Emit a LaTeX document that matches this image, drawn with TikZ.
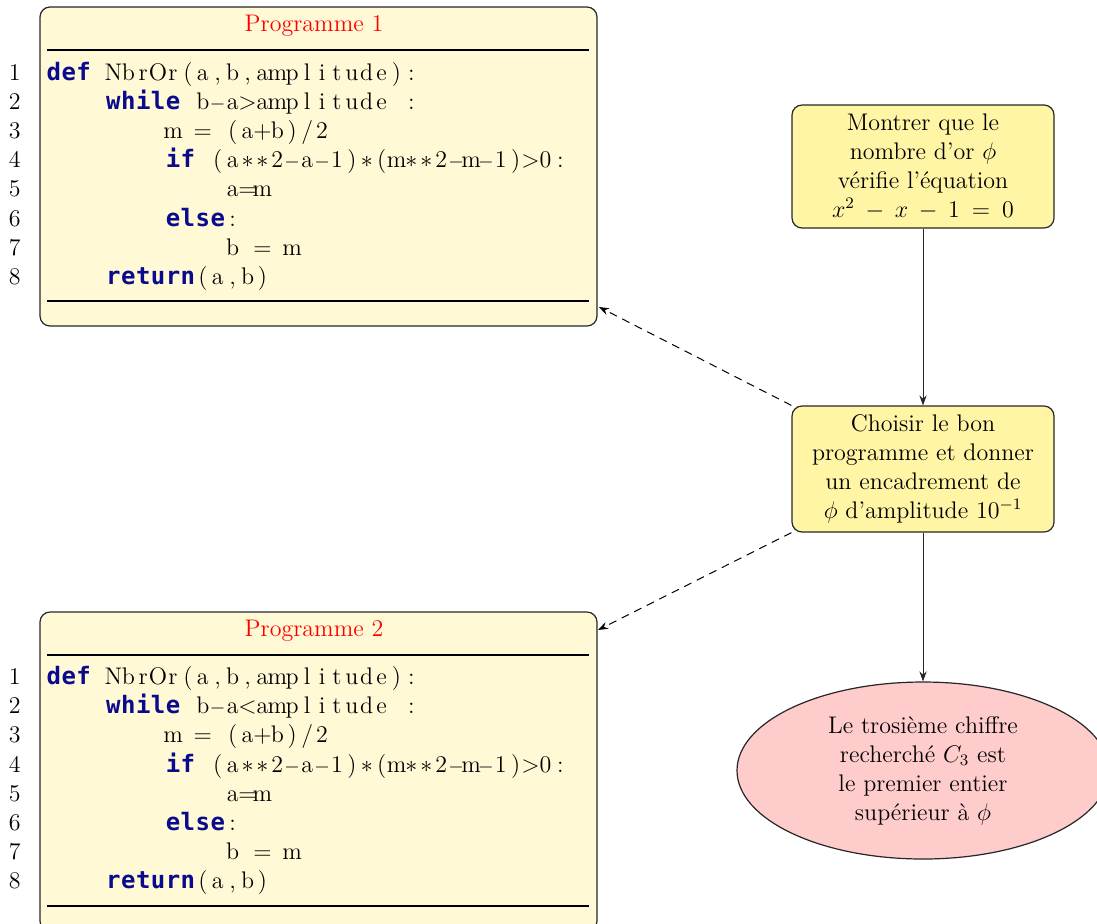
\documentclass[tikz,border=0pt]{standalone}
\usepackage{fontspec}
\usetikzlibrary{arrows.meta,shapes.geometric}
\newfontfamily\kwfont{DejaVu Sans Mono}
\definecolor{codebg}{RGB}{255,249,214}
\definecolor{boxbg}{RGB}{255,245,165}
\definecolor{ellbg}{RGB}{255,204,204}
\definecolor{kwblue}{RGB}{10,10,140}
\makeatletter
\newcommand\colbox[1]{\makebox[7.45pt][c]{#1}}
\newcommand\fcol[1]{{\fontsize{12pt}{14pt}\selectfont\@tfor\fc@t:=#1\do{\colbox{\fc@t}}}}
\newcommand\kw[1]{{\kwfont\bfseries\fontsize{12pt}{14pt}\selectfont\color{kwblue}\@tfor\fc@t:=#1\do{\colbox{\fc@t}}}}
\makeatother
\newcommand\mm{{\fontsize{10pt}{12pt}\selectfont$-$}}
\newcommand\st{{$\ast$}}
\begin{document}
\begin{tikzpicture}[x=0.5pt,y=-0.5pt,
  every node/.style={font=\fontsize{12pt}{14.5pt}\selectfont},
  codebox/.style={draw=black!85, line width=0.6pt, rounded corners=5pt, fill=codebg,
    minimum width=278.5pt, minimum height=159.5pt, inner sep=0pt},
  ptitle/.style={text=red, inner sep=0pt, anchor=base},
  numtxt/.style={anchor=base east, inner sep=0pt, font=\fontsize{12pt}{14pt}\selectfont},
  codetxt/.style={anchor=base west, inner sep=0pt},
  rulel/.style={line width=0.9pt},
  stepbox/.style={draw=black!85, line width=0.6pt, rounded corners=5pt, fill=boxbg,
    minimum width=131pt, align=center, inner sep=2pt},
  endell/.style={ellipse, draw=black!85, line width=0.6pt, fill=ellbg,
    minimum width=186pt, minimum height=88.5pt, inner sep=0pt, align=center},
  arr/.style={draw=black!85, line width=0.5pt, -{Stealth[length=5pt,width=3.6pt]}},
  darr/.style={draw=black, line width=0.5pt, dash pattern=on 4pt off 3pt,
    -{Stealth[length=5pt,width=3.6pt]}}
]
\clip (0,0) rectangle (1097,923);
\newcommand\codeln[5]{%
  \node[numtxt] (#1n) at (21,#2) {#4};
  \node[codetxt] (#1) at ({46+#3*14.9},#2) {#5};}
% Programme 1
\node[codebox] (prog1) at (318.5,166.5) {};
\node[ptitle] (t1) at (314,31) {Programme 1};
\draw[rulel] (47,50) -- (589,50);
\draw[rulel] (47,301) -- (589,301);
\codeln{a1}{80}{0}{1}{\kw{def}\fcol{~NbrOr(a,b,amplitude):}}
\codeln{a2}{109.2}{4}{2}{\kw{while}\fcol{~b\mm a>amplitude~:}}
\codeln{a3}{138.4}{8}{3}{\fcol{m~=~(a+b)/2}}
\codeln{a4}{167.6}{8}{4}{\kw{if}\fcol{~(a\st\st2\mm a\mm1)\st(m\st\st2\mm m\mm1)>0:}}
\codeln{a5}{196.8}{12}{5}{\fcol{a=m}}
\codeln{a6}{226}{8}{6}{\kw{else}\fcol{:}}
\codeln{a7}{255.2}{12}{7}{\fcol{b~=~m}}
\codeln{a8}{284.4}{4}{8}{\kw{return}\fcol{(a,b)}}
% Programme 2
\node[codebox] (prog2) at (318.5,771.5) {};
\node[ptitle] (t2) at (314,636) {Programme 2};
\draw[rulel] (47,655) -- (589,655);
\draw[rulel] (47,906) -- (589,906);
\codeln{b1}{684.5}{0}{1}{\kw{def}\fcol{~NbrOr(a,b,amplitude):}}
\codeln{b2}{713.7}{4}{2}{\kw{while}\fcol{~b\mm a<amplitude~:}}
\codeln{b3}{742.9}{8}{3}{\fcol{m~=~(a+b)/2}}
\codeln{b4}{772.1}{8}{4}{\kw{if}\fcol{~(a\st\st2\mm a\mm1)\st(m\st\st2\mm m\mm1)>0:}}
\codeln{b5}{801.3}{12}{5}{\fcol{a=m}}
\codeln{b6}{830.5}{8}{6}{\kw{else}\fcol{:}}
\codeln{b7}{859.7}{12}{7}{\fcol{b~=~m}}
\codeln{b8}{888.9}{4}{8}{\kw{return}\fcol{(a,b)}}
% right column
\node[stepbox, minimum height=61.5pt] (montrer) at (923,166.5)
  {Montrer que le\\ nombre d'or $\phi$\\ vérifie l'équation\\ $x^2\:-\:x\:-\:1\:=\:0$};
\node[stepbox, minimum height=63pt] (choisir) at (923,469)
  {Choisir le bon\\ programme et donner\\ un encadrement de\\ $\phi$ d'amplitude $10^{-1}$};
\node[endell] (fin) at (923,770.5)
  {Le trosième chiffre\\ recherché $C_3$ est\\ le premier entier\\ supérieur à $\phi$};
\coordinate (p1) at (599,307);
\coordinate (p2) at (598,630);
\draw[arr] (montrer) -- (choisir);
\draw[arr] (choisir) -- (fin);
\draw[darr] (choisir.north west) -- (p1);
\draw[darr] (choisir.south west) -- (p2);
\end{tikzpicture}
\end{document}
